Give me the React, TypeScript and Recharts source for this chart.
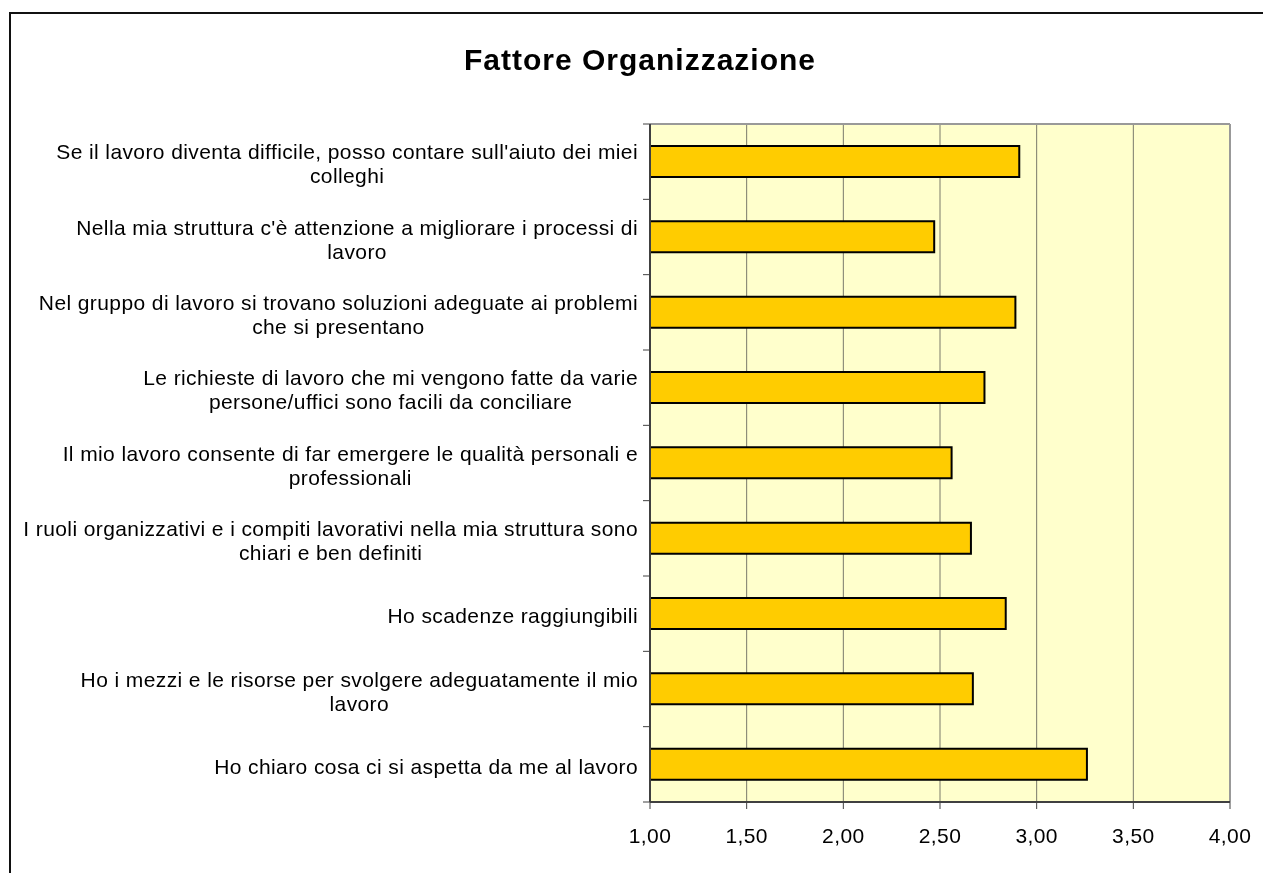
import React from "react";
import { BarChart, Bar, XAxis, YAxis, CartesianGrid } from "recharts";

const categories = [
  "Se il lavoro diventa difficile, posso contare sull'aiuto dei miei\ncolleghi",
  "Nella mia struttura c'è attenzione a migliorare i processi di\nlavoro",
  "Nel gruppo di lavoro si trovano soluzioni adeguate ai problemi\nche si presentano",
  "Le richieste di lavoro che mi vengono fatte da varie\npersone/uffici sono facili da conciliare",
  "Il mio lavoro consente di far emergere le qualità personali e\nprofessionali",
  "I ruoli organizzativi e i compiti lavorativi nella mia struttura sono\nchiari e ben definiti",
  "Ho scadenze raggiungibili",
  "Ho i mezzi e le risorse per svolgere adeguatamente il mio\nlavoro",
  "Ho chiaro cosa ci si aspetta da me al lavoro",
];
const values = [2.91, 2.47, 2.89, 2.73, 2.56, 2.66, 2.84, 2.67, 3.26];
const xTicks = [1, 1.5, 2, 2.5, 3, 3.5, 4];

const data = categories.map((name, i) => ({ name, value: values[i] }));

const FONT = '"Liberation Sans", Arial, sans-serif';
const LABEL_SIZE = 21;
const SPACING = 0.4;

let ctx: CanvasRenderingContext2D | null = null;
const measure = (s: string) => {
  if (!ctx) ctx = document.createElement("canvas").getContext("2d");
  if (!ctx) return s.length * 9;
  ctx.font = `${LABEL_SIZE}px "Liberation Sans"`;
  return ctx.measureText(s).width + s.length * SPACING;
};

const CatTick = (props: any) => {
  const { x, y, payload, index } = props;
  const off = payload.offset ?? 0;
  const lines: string[] = String(payload.value).split("\n");
  const right = x - 12;
  const blockW = Math.max(...lines.map(measure));
  const cx = right - blockW / 2;
  const txt = { fontSize: LABEL_SIZE, fontFamily: FONT, fill: "#000", letterSpacing: SPACING, dominantBaseline: "central" as const };
  return (
    <g>
      <line x1={x - 7} x2={x} y1={y - off} y2={y - off} stroke="#404040" strokeWidth={1} />
      {index === categories.length - 1 && (
        <line x1={x - 7} x2={x} y1={y + off} y2={y + off} stroke="#404040" strokeWidth={1} />
      )}
      {lines.length === 1 ? (
        <text x={right} y={y + 2} textAnchor="end" {...txt}>
          {lines[0]}
        </text>
      ) : (
        lines.map((l, i) => (
          <text key={i} x={cx} y={y + 2 + (i - 0.5) * 24} textAnchor="middle" {...txt}>
            {l}
          </text>
        ))
      )}
    </g>
  );
};

export default function App() {
  return (
    <div style={{ position: "relative", width: 1247, height: 857, overflow: "hidden", background: "#fff" }}>
      <div style={{ position: "fixed", left: 9, top: 12, width: 1300, height: 900, borderLeft: "2px solid #111", borderTop: "2px solid #111" }} />
      <div style={{ position: "absolute", left: 0, top: 36, width: 1264, textAlign: "center", fontFamily: FONT, fontWeight: 700, fontSize: 30, lineHeight: "32px", letterSpacing: 1, color: "#000" }}>
        Fattore Organizzazione
      </div>
      <div style={{ position: "absolute", left: 0, top: 0 }}>
        <BarChart width={1247} height={850} data={data} layout="vertical" margin={{ top: 116, right: 25, bottom: 16, left: 0 }}>
          <CartesianGrid horizontal={false} vertical stroke="#7a7a6a" strokeWidth={1} fill="#FFFFCC" fillOpacity={1} />
          {/* plot frame: gray top and right edges */}
          <CartesianGrid
            stroke="#999"
            strokeWidth={2}
            horizontalCoordinatesGenerator={({ offset }: any) => [offset.top]}
            verticalCoordinatesGenerator={({ offset }: any) => [offset.left + offset.width]}
          />
          <XAxis
            type="number"
            domain={[1, 4]}
            ticks={xTicks}
            interval={0}
            height={40}
            tickFormatter={(v: number) => v.toFixed(2).replace(".", ",")}
            tick={{ fontSize: LABEL_SIZE, fontFamily: FONT, fill: "#000", letterSpacing: SPACING }}
            tickSize={7}
            tickMargin={19}
            axisLine={{ stroke: "#404040", strokeWidth: 2 }}
            tickLine={{ stroke: "#404040" }}
          />
          <YAxis
            type="category"
            dataKey="name"
            width={642}
            interval={0}
            tickSize={0}
            tickMargin={0}
            tickLine={false}
            tick={<CatTick />}
            axisLine={{ stroke: "#404040", strokeWidth: 2 }}
          />
          <Bar dataKey="value" fill="#FFCC00" stroke="#000" strokeWidth={2} barSize={31} isAnimationActive={false} />
        </BarChart>
      </div>
    </div>
  );
}
